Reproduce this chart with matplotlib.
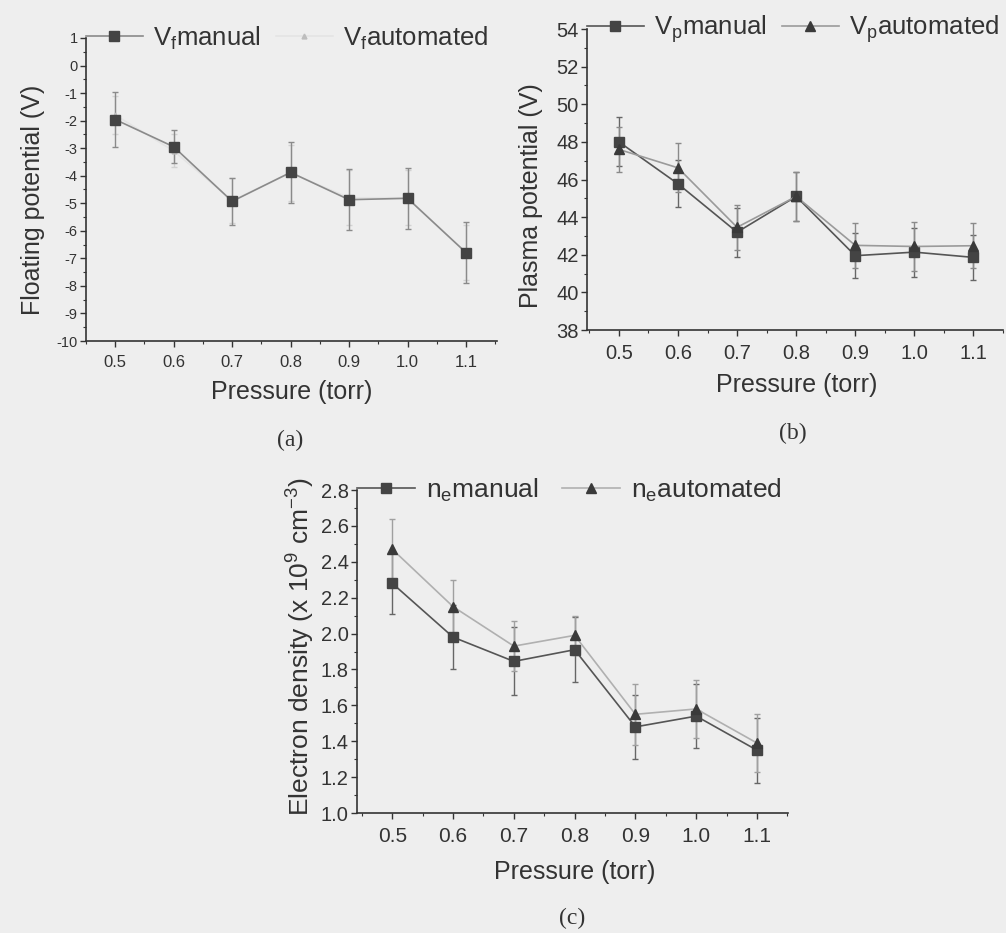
import matplotlib.pyplot as plt
from matplotlib.ticker import MultipleLocator

plt.rcParams['font.family'] = ['Liberation Sans', 'DejaVu Sans']
plt.rcParams['mathtext.fontset'] = 'custom'
plt.rcParams['mathtext.rm'] = 'Liberation Sans'
plt.rcParams['mathtext.it'] = 'Liberation Sans'
plt.rcParams['axes.unicode_minus'] = False

pressure = [0.5, 0.6, 0.7, 0.8, 0.9, 1.0, 1.1]

# (a) floating potential
vf_manual = [-1.96, -2.95, -4.93, -3.88, -4.87, -4.82, -6.79]
vf_manual_err = [1.0, 0.6, 0.85, 1.1, 1.1, 1.1, 1.1]
vf_auto = [-1.8, -3.1, -4.9, -3.9, -4.8, -4.8, -6.8]
vf_auto_err = [0.7, 0.6, 0.8, 1.0, 1.0, 1.0, 1.0]

# (b) plasma potential
vp_manual = [48.0, 45.77, 43.2, 45.1, 41.95, 42.14, 41.86]
vp_manual_err = [1.3, 1.25, 1.3, 1.3, 1.2, 1.3, 1.2]
vp_auto = [47.6, 46.62, 43.46, 45.1, 42.5, 42.44, 42.48]
vp_auto_err = [1.2, 1.3, 1.2, 1.3, 1.2, 1.3, 1.2]

# (c) electron density
ne_manual = [2.28, 1.98, 1.845, 1.91, 1.48, 1.54, 1.35]
ne_manual_err = [0.17, 0.18, 0.19, 0.18, 0.18, 0.18, 0.18]
ne_auto = [2.47, 2.15, 1.93, 1.99, 1.55, 1.58, 1.39]
ne_auto_err = [0.17, 0.15, 0.14, 0.11, 0.17, 0.16, 0.16]

bg = '#eeeeee'
ink = '#333333'

fig = plt.figure(figsize=(10.06, 9.33), dpi=100, facecolor=bg)

def fmt_axes(ax, ylim, ymaj, ymin, xlim, tick_fs_x, tick_fs_y):
    ax.set_facecolor('none')
    for s in ['top', 'right']:
        ax.spines[s].set_visible(False)
    for s in ['left', 'bottom']:
        ax.spines[s].set_color(ink)
        ax.spines[s].set_linewidth(1.2)
    ax.set_xlim(*xlim)
    ax.set_ylim(*ylim)
    ax.set_xticks(pressure)
    ax.set_xticklabels(['%.1f' % p for p in pressure])
    ax.xaxis.set_minor_locator(MultipleLocator(0.05))
    ax.yaxis.set_major_locator(MultipleLocator(ymaj))
    ax.yaxis.set_minor_locator(MultipleLocator(ymin))
    ax.tick_params(which='major', direction='out', length=4, width=1, colors=ink)
    ax.tick_params(which='minor', direction='out', length=2.5, width=0.8, colors=ink)
    ax.tick_params(axis='x', labelsize=tick_fs_x, pad=6)
    ax.tick_params(axis='y', labelsize=tick_fs_y, pad=2)

def series(ax, y, err, marker, color, lcolor, ecolor, ms):
    c = ax.errorbar(pressure, y, yerr=err, color=lcolor, ecolor=ecolor, elinewidth=1,
                    capsize=2.5, capthick=1, lw=1.2, marker=marker, ms=ms,
                    mfc=color, mec=color, zorder=3)
    return c.lines[0]

def legend(ax, handles, labels, colsp, fs=18.5):
    ax.legend(handles, labels, ncol=2, loc='center left',
              bbox_to_anchor=(0.0, 1.0), frameon=False, fontsize=fs,
              handlelength=2.2, handletextpad=0.4, columnspacing=colsp,
              borderaxespad=0, borderpad=0, labelcolor=ink)

# ---- (a)
ax1 = fig.add_axes([0.0855, 0.6345, 0.4085, 0.3248])
la = series(ax1, vf_auto, vf_auto_err, '^', '#bdbdbd', '#e4e4e4', '#d2d2d2', 3.5)
lm = series(ax1, vf_manual, vf_manual_err, 's', '#444444', '#8a8a8a', '#8a8a8a', 7)
fmt_axes(ax1, (-10, 1), 1, 0.5, (0.45, 1.153), 12, 10.5)
ax1.set_ylabel('Floating potential (V)', fontsize=18, color=ink)
ax1.yaxis.set_label_coords(-0.10, 0.465)
ax1.set_xlabel('Pressure (torr)', fontsize=18, color=ink)
ax1.xaxis.set_label_coords(0.501, -0.129)
legend(ax1, [lm, la], [r'V$_\mathrm{f}$manual', r'V$_\mathrm{f}$automated'], 0.6)
fig.text(290 / 1006, 1 - 440 / 933, '(a)', family='Liberation Serif', fontsize=17,
         color=ink, ha='center', va='center')

# ---- (b)
ax2 = fig.add_axes([0.5835, 0.6463, 0.4135, 0.3226])
lm = series(ax2, vp_manual, vp_manual_err, 's', '#444444', '#555555', '#666666', 7)
la = series(ax2, vp_auto, vp_auto_err, '^', '#3a3a3a', '#9a9a9a', '#8a8a8a', 7)
fmt_axes(ax2, (38, 54), 2, 1, (0.446, 1.15), 14.5, 14.5)
ax2.set_ylabel('Plasma potential (V)', fontsize=18, color=ink)
ax2.yaxis.set_label_coords(-0.106, 0.448)
ax2.set_xlabel('Pressure (torr)', fontsize=18, color=ink)
ax2.xaxis.set_label_coords(0.505, -0.143)
legend(ax2, [lm, la], [r'V$_\mathrm{p}$manual', r'V$_\mathrm{p}$automated'], 0.6)
fig.text(793 / 1006, 1 - 433 / 933, '(b)', family='Liberation Serif', fontsize=17,
         color=ink, ha='center', va='center')

# ---- (c)
ax3 = fig.add_axes([0.3549, 0.1286, 0.4284, 0.3462])
lm = series(ax3, ne_manual, ne_manual_err, 's', '#444444', '#555555', '#666666', 7)
la = series(ax3, ne_auto, ne_auto_err, '^', '#3a3a3a', '#b0b0b0', '#a0a0a0', 7)
fmt_axes(ax3, (1.0, 2.8), 0.2, 0.1, (0.442, 1.151), 15, 14.5)
ax3.yaxis.set_major_formatter(plt.FormatStrFormatter('%.1f'))
ax3.set_ylabel(r'Electron density (x 10$^\mathrm{9}$ cm$^\mathrm{-3}$)', fontsize=19,
               color=ink)
ax3.yaxis.set_label_coords(-0.093, 0.514)
ax3.set_xlabel('Pressure (torr)', fontsize=18, color=ink)
ax3.xaxis.set_label_coords(0.506, -0.146)
legend(ax3, [lm, la], [r'n$_\mathrm{e}$manual', r'n$_\mathrm{e}$automated'], 0.9, fs=19)
fig.text(572 / 1006, 1 - 918 / 933, '(c)', family='Liberation Serif', fontsize=17,
         color=ink, ha='center', va='center')

fig.savefig('out.png', dpi=100, facecolor=bg)
